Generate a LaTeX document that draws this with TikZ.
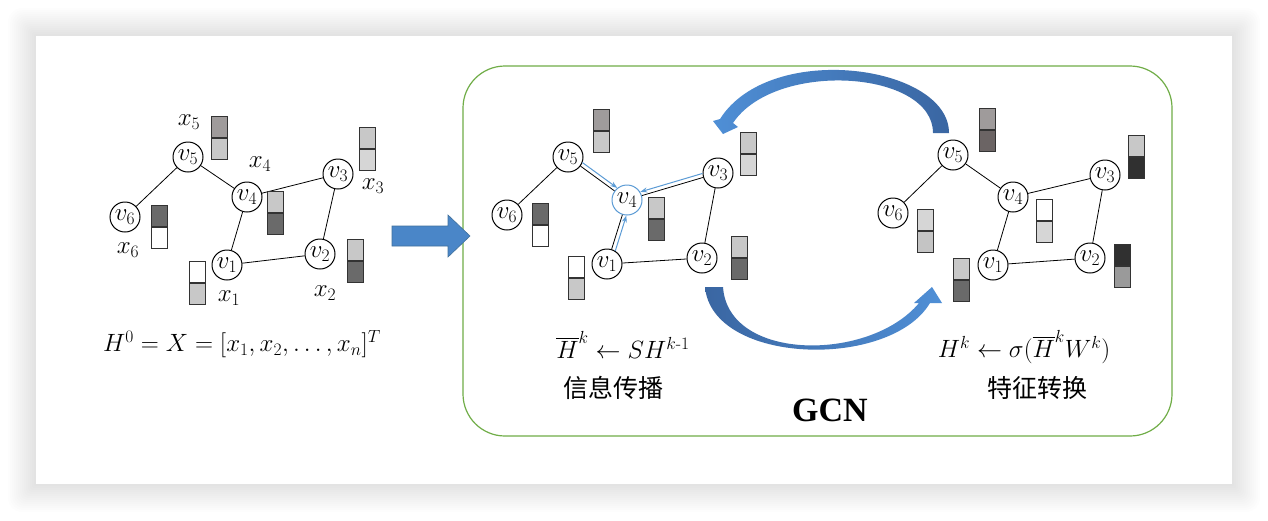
\RequirePackage{fix-cm}
\documentclass[tikz,border=0pt]{standalone}
\usepackage{amsmath}
\usepackage{fontspec}
\newfontfamily\cjkfont{Noto Sans CJK SC}
\newfontfamily\gcnfont{Liberation Serif}
\usetikzlibrary{positioning,calc,arrows.meta}
\definecolor{msgblue}{HTML}{5B9BD5}
\definecolor{gcngreen}{HTML}{70AD47}
\definecolor{arrowblue}{HTML}{4A86C8}
\definecolor{arrowedge}{HTML}{41719C}
\definecolor{arrowlight}{HTML}{4F8FD6}
\definecolor{arrowdark}{HTML}{3A66A2}
\definecolor{cellmid}{HTML}{9F9B9B}
\definecolor{celllight}{HTML}{C8C8C8}
\definecolor{cellpale}{HTML}{D6D6D6}
\definecolor{celldark}{HTML}{6A6A6A}
\definecolor{cellblack}{HTML}{303030}
\definecolor{cellbrown}{HTML}{6B6464}
\definecolor{cellgrey}{HTML}{9A9A9A}
\definecolor{cellsilver}{HTML}{C4C4C4}
\begin{document}
\begin{tikzpicture}
[x=1pt,y=-1pt,
  vertexdecorate/.style={shape=circle,minimum size=30pt,inner sep=0pt,draw,line width=1pt,fill=white,font=\fontsize{25}{29}\selectfont},%
  celldecorate/.style={draw=black!80,line width=1pt,minimum width=16pt,minimum height=21pt,inner sep=0pt},%
  edgedecorate/.style={line width=0.8pt},%
  msgdecorate/.style={-{Stealth[length=7pt,width=5pt]},line width=1pt,draw=msgblue,shorten <=15pt,shorten >=15pt},%
  labeldecorate/.style={font=\fontsize{25}{29}\selectfont},%
  formuladecorate/.style={font=\fontsize{25}{30}\selectfont},%
  cjkdecorate/.style={font=\cjkfont\fontsize{25}{30}\selectfont}]
\useasboundingbox (0,0) rectangle (1268,520);
% panel and its shadow
\foreach \d in {1,...,14}
  \fill[black,opacity=0.007,rounded corners=\d pt] (36-2*\d,36-2*\d) rectangle (1232+2*\d,484+2*\d);
\fill[white] (36,36) rectangle (1232,484);
% GCN frame
\draw[gcngreen,line width=1.2pt,rounded corners=42pt] (463,66) rectangle (1172,436);
% input graph
\node (L1) at (227,265) [vertexdecorate] {$v_1$};
\node (L2) at (320,254) [vertexdecorate] {$v_2$};
\node (L3) at (338,174) [vertexdecorate] {$v_3$};
\node (L4) at (247,197) [vertexdecorate] {$v_4$};
\node (L5) at (188,157) [vertexdecorate] {$v_5$};
\node (L6) at (125,217) [vertexdecorate] {$v_6$};
\node at (229,298) [labeldecorate] {$x_1$};
\node at (325,293) [labeldecorate] {$x_2$};
\node at (373,186) [labeldecorate] {$x_3$};
\node at (260,164) [labeldecorate] {$x_4$};
\node at (189,122) [labeldecorate] {$x_5$};
\node at (128,250) [labeldecorate] {$x_6$};
\path
(L5) edge[edgedecorate] (L6)
(L5) edge[edgedecorate] (L4)
(L4) edge[edgedecorate] (L3)
(L4) edge[edgedecorate] (L1)
(L1) edge[edgedecorate] (L2)
(L2) edge[edgedecorate] (L3);
% input features
\node (LA1) at (197,271.5) [celldecorate,fill=white] {};
\node (LB1) [celldecorate,fill=celllight,below=0pt of LA1] {};
\node (LA2) at (355,249.5) [celldecorate,fill=celllight] {};
\node (LB2) [celldecorate,fill=celldark,below=0pt of LA2] {};
\node (LA3) at (367.5,137.5) [celldecorate,fill=celllight] {};
\node (LB3) [celldecorate,fill=cellpale,below=0pt of LA3] {};
\node (LA4) at (275,201.5) [celldecorate,fill=celllight] {};
\node (LB4) [celldecorate,fill=celldark,below=0pt of LA4] {};
\node (LA5) at (219,126.5) [celldecorate,fill=cellmid] {};
\node (LB5) [celldecorate,fill=celllight,below=0pt of LA5] {};
\node (LA6) at (159.5,215.5) [celldecorate,fill=celldark] {};
\node (LB6) [celldecorate,fill=white,below=0pt of LA6] {};
\node (h0) at (242,344) [formuladecorate] {$H^0=X=[x_1,x_2,\ldots,x_n]^T$};
% feed arrow
\filldraw[fill=arrowblue,draw=arrowedge,line width=0.6pt]
(392,226) -- (448,226) -- (448,215) -- (470,236) -- (448,257) -- (448,246) -- (392,246) -- cycle;
% propagation graph
\node (M1) at (607,264) [vertexdecorate] {$v_1$};
\node (M2) at (702,258) [vertexdecorate] {$v_2$};
\node (M3) at (718,173) [vertexdecorate] {$v_3$};
\node (M4) at (627,200) [vertexdecorate,draw=msgblue] {$v_4$};
\node (M5) at (568,157) [vertexdecorate] {$v_5$};
\node (M6) at (507,215) [vertexdecorate] {$v_6$};
\path
(M5) edge[edgedecorate] (M6)
(M5) edge[edgedecorate] (M4)
(M4) edge[edgedecorate] (M3)
(M4) edge[edgedecorate] (M1)
(M1) edge[edgedecorate] (M2)
(M2) edge[edgedecorate] (M3);
\draw[msgdecorate] ($(M5)!4pt!90:(M4)$) -- ($(M4)!4pt!-90:(M5)$);
\draw[msgdecorate] ($(M3)!4pt!-90:(M4)$) -- ($(M4)!4pt!90:(M3)$);
\draw[msgdecorate] ($(M1)!4pt!-90:(M4)$) -- ($(M4)!4pt!90:(M1)$);
\node (MA1) at (576.5,266.5) [celldecorate,fill=white] {};
\node (MB1) [celldecorate,fill=celllight,below=0pt of MA1] {};
\node (MA2) at (739,246.5) [celldecorate,fill=celllight] {};
\node (MB2) [celldecorate,fill=celldark,below=0pt of MA2] {};
\node (MA3) at (748,142.5) [celldecorate,fill=celllight] {};
\node (MB3) [celldecorate,fill=cellpale,below=0pt of MA3] {};
\node (MA4) at (656.5,207.5) [celldecorate,fill=celllight] {};
\node (MB4) [celldecorate,fill=celldark,below=0pt of MA4] {};
\node (MA5) at (601,119.5) [celldecorate,fill=cellmid] {};
\node (MB5) [celldecorate,fill=celllight,below=0pt of MA5] {};
\node (MA6) at (540,213.5) [celldecorate,fill=celldark] {};
\node (MB6) [celldecorate,fill=white,below=0pt of MA6] {};
\node (prop) at (623,345) [formuladecorate] {$\overline{H}^k\leftarrow SH^{k\text{-}1}$};
\node (propcn) at (613,388) [cjkdecorate] {信息传播};
% transformation graph
\node (R1) at (993,265) [vertexdecorate] {$v_1$};
\node (R2) at (1090,258) [vertexdecorate] {$v_2$};
\node (R3) at (1105,175) [vertexdecorate] {$v_3$};
\node (R4) at (1013,197) [vertexdecorate] {$v_4$};
\node (R5) at (953,155) [vertexdecorate] {$v_5$};
\node (R6) at (893,213) [vertexdecorate] {$v_6$};
\path
(R5) edge[edgedecorate] (R6)
(R5) edge[edgedecorate] (R4)
(R4) edge[edgedecorate] (R3)
(R4) edge[edgedecorate] (R1)
(R1) edge[edgedecorate] (R2)
(R2) edge[edgedecorate] (R3);
\node (RA1) at (961.5,268.5) [celldecorate,fill=celllight] {};
\node (RB1) [celldecorate,fill=celldark,below=0pt of RA1] {};
\node (RA2) at (1122.5,254.5) [celldecorate,fill=cellblack] {};
\node (RB2) [celldecorate,fill=cellgrey,below=0pt of RA2] {};
\node (RA3) at (1136.5,145.5) [celldecorate,fill=celllight] {};
\node (RB3) [celldecorate,fill=cellblack,below=0pt of RA3] {};
\node (RA4) at (1044,209.5) [celldecorate,fill=white] {};
\node (RB4) [celldecorate,fill=cellpale,below=0pt of RA4] {};
\node (RA5) at (987,118.5) [celldecorate,fill=cellmid] {};
\node (RB5) [celldecorate,fill=cellbrown,below=0pt of RA5] {};
\node (RA6) at (925.5,219.5) [celldecorate,fill=cellpale] {};
\node (RB6) [celldecorate,fill=cellsilver,below=0pt of RA6] {};
\node (trans) at (1024,347) [formuladecorate] {$H^k\leftarrow\sigma(\overline{H}^kW^k)$};
\node (transcn) at (1037,388) [cjkdecorate] {特征转换};
% loop arrows
\shade[left color=arrowlight,right color=arrowdark]
(949,133) .. controls (949,65) and (770,40) .. (720,119) -- (713,121) -- (723,134) -- (738,127) -- (733,123)
.. controls (775,60) and (933,70) .. (933,133) -- cycle;
\shade[left color=arrowdark,right color=arrowlight]
(705,287) .. controls (712,365) and (890,370) .. (930,303) -- (942,303) -- (932,287) -- (914,303) -- (919,303)
.. controls (870,362) and (728,362) .. (723,287) -- cycle;
\node (gcn) at (830,410) [font=\gcnfont\bfseries\fontsize{34}{40}\selectfont] {GCN};
\end{tikzpicture}
\end{document}
